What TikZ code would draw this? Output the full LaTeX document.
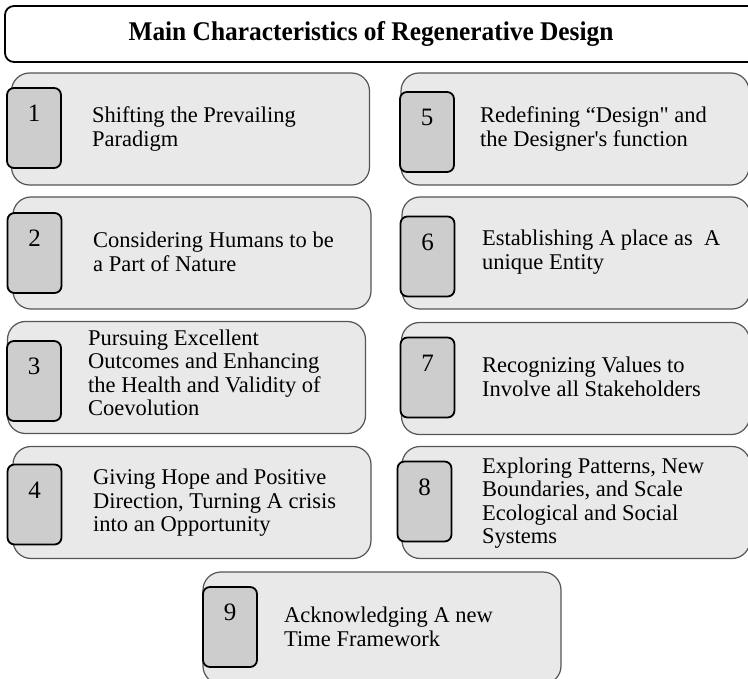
\documentclass[tikz,border=0pt]{standalone}
\usepackage{fontspec}
\setmainfont{Liberation Serif}
\usetikzlibrary{positioning}

\definecolor{cardgray}{RGB}{233,233,233}
\definecolor{numgray}{RGB}{205,205,205}
\definecolor{edgegray}{RGB}{85,85,85}

\begin{document}
\begin{tikzpicture}[x=1pt,y=-1pt,
    card/.style={rectangle,
        draw = edgegray,
        line width = 1.2pt,
        fill = cardgray,
        rounded corners = 18pt,
        minimum width = 358pt,
        minimum height = 112pt,
        inner sep = 0pt},
    numbox/.style={rectangle,
        draw = black,
        line width = 1.8pt,
        fill = numgray,
        rounded corners = 7pt,
        minimum width = 54pt,
        minimum height = 80pt,
        inner sep = 0pt},
    numlabel/.style={inner sep=0pt, font=\fontsize{25}{25}\selectfont},
    itemtext/.style={anchor=west, align=left, inner sep=0pt,
        font=\fontsize{22.5}{23.5}\selectfont}]
\useasboundingbox (0,0) rectangle (748,679);

% heading
\node[rectangle,
    draw = black,
    line width = 1.8pt,
    fill = white,
    rounded corners = 9pt,
    minimum width = 760pt,
    minimum height = 56pt]
    (headbox) at (385,34) {};
\node[font=\fontsize{27}{28}\selectfont\bfseries] (head) at (371,34)
    {\scalebox{0.94}[1]{Main Characteristics of Regenerative Design}};

% left column
\node[card] (c1) at (190.5,129) {};
\node[numbox] (n1) at (34,128) {};
\node[numlabel, below=18pt of n1.north] (d1) {1};
\node[itemtext] (t1) at (92,129) {Shifting the Prevailing\\Paradigm};

\node[card] (c2) at (192,253) {};
\node[numbox] (n2) at (34.5,253) {};
\node[numlabel, below=18pt of n2.north] (d2) {2};
\node[itemtext] (t2) at (93,252) {Considering Humans to be\\a Part of Nature};

\node[card] (c3) at (186.5,377.5) {};
\node[numbox] (n3) at (34,381) {};
\node[numlabel, below=18pt of n3.north] (d3) {3};
\node[itemtext] (t3) at (88,373) {Pursuing Excellent\\Outcomes and Enhancing\\the Health and Validity of\\Coevolution};

\node[card] (c4) at (192,502.5) {};
\node[numbox] (n4) at (34.5,504.5) {};
\node[numlabel, below=18pt of n4.north] (d4) {4};
\node[itemtext] (t4) at (93,503) {Giving Hope and Positive\\Direction, Turning A crisis\\into an Opportunity};

% right column
\node[card, minimum width=348pt] (c5) at (575,129) {};
\node[numbox] (n5) at (427,132) {};
\node[numlabel, below=18pt of n5.north] (d5) {5};
\node[itemtext] (t5) at (480,129) {Redefining “Design\textquotedbl{} and\\the Designer\textquotesingle{}s function};

\node[card, minimum width=348pt] (c6) at (576,253) {};
\node[numbox] (n6) at (427.5,256.5) {};
\node[numlabel, below=18pt of n6.north] (d6) {6};
\node[itemtext] (t6) at (482,252) {Establishing A place as\ \ A\\unique Entity};

\node[card, minimum width=348pt] (c7) at (575.5,378.5) {};
\node[numbox] (n7) at (427.5,377.5) {};
\node[numlabel, below=18pt of n7.north] (d7) {7};
\node[itemtext] (t7) at (482,377) {Recognizing Values to\\Involve all Stakeholders};

\node[card, minimum width=348pt] (c8) at (576,502.5) {};
\node[numbox] (n8) at (424.5,501.5) {};
\node[numlabel, below=18pt of n8.north] (d8) {8};
\node[itemtext] (t8) at (482,503) {Exploring Patterns, New\\Boundaries, and Scale\\Ecological and Social\\Systems};

% last one, centred below
\node[card] (c9) at (382,628) {};
\node[numbox] (n9) at (230,627) {};
\node[numlabel, below=18pt of n9.north] (d9) {9};
\node[itemtext] (t9) at (284,627) {Acknowledging A new\\Time Framework};

\end{tikzpicture}
\end{document}
